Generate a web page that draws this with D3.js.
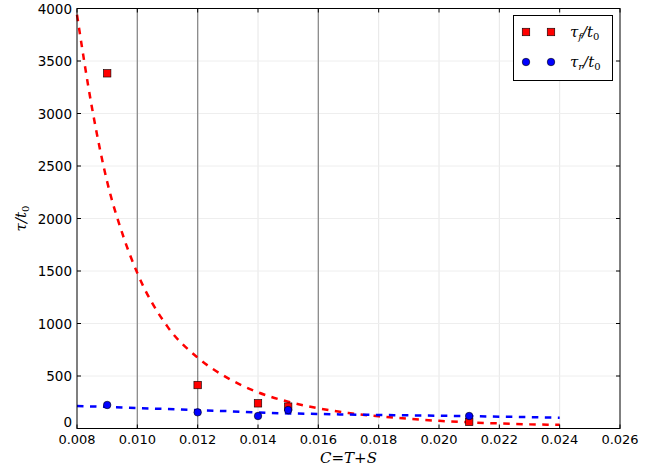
<!DOCTYPE html>
<html>
<head>
<meta charset="utf-8">
<script src="https://cdn.jsdelivr.net/npm/d3@7/dist/d3.min.js"></script>
<style>
  html, body { margin: 0; padding: 0; background: #fff; }
  svg { display: block; }
</style>
</head>
<body>
<svg id="chart" width="665" height="470"></svg>
<script>
// ---- data ----
const xTicks = [0.008, 0.010, 0.012, 0.014, 0.016, 0.018, 0.020, 0.022, 0.024, 0.026];
const yTicks = [0, 500, 1000, 1500, 2000, 2500, 3000, 3500, 4000];
const refLines = [0.010, 0.012, 0.016];

const pointC = [0.009, 0.012, 0.014, 0.015, 0.021];
const tauF = [3383, 414, 240, 208, 63];
const tauR = [224, 154, 119, 176, 119];

const fitC = [0.008, 0.0085, 0.009, 0.0095, 0.010, 0.011, 0.012, 0.013, 0.014, 0.015, 0.016,
              0.017, 0.018, 0.019, 0.020, 0.021, 0.022, 0.023, 0.024];
const fitF = [3940, 3050, 2350, 1860, 1480, 970, 675, 480, 345, 255, 193,
              148, 116, 92, 73, 59, 48, 40, 35];
const fitR = [215, 210, 205, 200, 195, 185, 175, 165, 152, 144, 138,
              133, 129, 125, 122, 118, 113, 108, 103];

const legendLabels = ["f", "r"];

// ---- layout ----
const svg = d3.select("#chart");
const L = 77, R = 620, T = 8.5, B = 428.5;
const x = d3.scaleLinear().domain([0.008, 0.026]).range([L, R]);
const y = d3.scaleLinear().domain([0, 4000]).range([B, T]);

const RED = "#ff0000", BLUE = "#0000ff";

// grid
const g = svg.append("g");
g.selectAll(".vg").data(xTicks.slice(1, -1)).enter().append("line")
  .attr("x1", d => x(d)).attr("x2", d => x(d)).attr("y1", T).attr("y2", B)
  .attr("stroke", "#e6e6e6").attr("stroke-width", 1);
g.selectAll(".hg").data(yTicks.slice(1, -1)).enter().append("line")
  .attr("y1", d => y(d)).attr("y2", d => y(d)).attr("x1", L).attr("x2", R)
  .attr("stroke", "#eeeeee").attr("stroke-width", 1);
g.selectAll(".rl").data(refLines).enter().append("line")
  .attr("x1", d => x(d)).attr("x2", d => x(d)).attr("y1", T).attr("y2", B)
  .attr("stroke", "#8c8c8c").attr("stroke-width", 1.3);

// fit lines
svg.append("path").datum(fitF)
  .attr("d", d3.line().x((d, i) => x(fitC[i])).y(d => y(d)).curve(d3.curveMonotoneX))
  .attr("fill", "none").attr("stroke", RED).attr("stroke-width", 2.5)
  .attr("stroke-dasharray", "6.5,6.5");
svg.append("path").datum(fitR)
  .attr("d", d3.line().x((d, i) => x(fitC[i])).y(d => y(d)).curve(d3.curveMonotoneX))
  .attr("fill", "none").attr("stroke", BLUE).attr("stroke-width", 2.5)
  .attr("stroke-dasharray", "6.5,6.5");

// markers
const S = 7.5;
svg.selectAll(".sq").data(tauF).enter().append("rect")
  .attr("x", (d, i) => x(pointC[i]) - S / 2).attr("y", d => y(d) - S / 2)
  .attr("width", S).attr("height", S)
  .attr("fill", RED).attr("stroke", "#000").attr("stroke-width", 0.6);
svg.selectAll(".ci").data(tauR).enter().append("circle")
  .attr("cx", (d, i) => x(pointC[i])).attr("cy", d => y(d)).attr("r", S / 2)
  .attr("fill", BLUE).attr("stroke", "#000").attr("stroke-width", 0.6);

// frame
svg.append("rect").attr("x", L).attr("y", T).attr("width", R - L).attr("height", B - T)
  .attr("fill", "none").attr("stroke", "#000").attr("stroke-width", 1);

// ticks (inside)
const tl = 4;
xTicks.forEach(t => {
  svg.append("line").attr("x1", x(t)).attr("x2", x(t)).attr("y1", B).attr("y2", B - tl).attr("stroke", "#000");
  svg.append("line").attr("x1", x(t)).attr("x2", x(t)).attr("y1", T).attr("y2", T + tl).attr("stroke", "#000");
});
yTicks.forEach(t => {
  svg.append("line").attr("x1", L).attr("x2", L + tl).attr("y1", y(t)).attr("y2", y(t)).attr("stroke", "#000");
  svg.append("line").attr("x1", R).attr("x2", R - tl).attr("y1", y(t)).attr("y2", y(t)).attr("stroke", "#000");
});

// tick labels
const tickFont = "DejaVu Sans, sans-serif";
svg.selectAll(".xl").data(xTicks).enter().append("text")
  .attr("x", d => x(d)).attr("y", B + 15)
  .attr("text-anchor", "middle").attr("font-family", tickFont).attr("font-size", 13)
  .attr("fill", "#000").text(d => d3.format(".3f")(d));
svg.selectAll(".yl").data(yTicks).enter().append("text")
  .attr("x", L - 5).attr("y", d => y(d) + (d === 0 ? -2 : 5))
  .attr("text-anchor", "end").attr("font-family", tickFont).attr("font-size", 13.5)
  .attr("fill", "#000").text(d => d);

// axis labels
const serif = "DejaVu Serif, Liberation Serif, serif";
const xlab = svg.append("text").attr("x", (L + R) / 2).attr("y", 463)
  .attr("text-anchor", "middle").attr("font-family", serif).attr("font-size", 15)
  .attr("font-style", "italic").attr("fill", "#000");
xlab.text("C=T+S");

const ylab = svg.append("text")
  .attr("transform", `translate(26,${(T + B) / 2}) rotate(-90)`)
  .attr("text-anchor", "middle").attr("font-family", serif).attr("font-size", 15)
  .attr("font-style", "italic").attr("fill", "#000");
ylab.append("tspan").text("τ/t");
ylab.append("tspan").attr("dy", 3).attr("font-size", 10).attr("font-style", "normal").text("0");

// legend
const lg = svg.append("g");
lg.append("rect").attr("x", 513.5).attr("y", 15.5).attr("width", 99).attr("height", 65)
  .attr("fill", "#fff").attr("stroke", "#000").attr("stroke-width", 1);
const rowY = [32, 62];
[526, 551].forEach(mx => {
  lg.append("rect").attr("x", mx - S / 2).attr("y", rowY[0] - S / 2).attr("width", S).attr("height", S)
    .attr("fill", RED).attr("stroke", "#000").attr("stroke-width", 0.6);
  lg.append("circle").attr("cx", mx).attr("cy", rowY[1]).attr("r", S / 2)
    .attr("fill", BLUE).attr("stroke", "#000").attr("stroke-width", 0.6);
});
legendLabels.forEach((s, i) => {
  const t = lg.append("text").attr("x", 570).attr("y", rowY[i] + 5)
    .attr("font-family", serif).attr("font-size", 15).attr("font-style", "italic").attr("fill", "#000");
  t.append("tspan").text("τ");
  t.append("tspan").attr("dy", 3).attr("font-size", 10).text(s);
  t.append("tspan").attr("dy", -3).text("/t");
  t.append("tspan").attr("dy", 3).attr("font-size", 10).attr("font-style", "normal").text("0");
});
</script>
</body>
</html>
